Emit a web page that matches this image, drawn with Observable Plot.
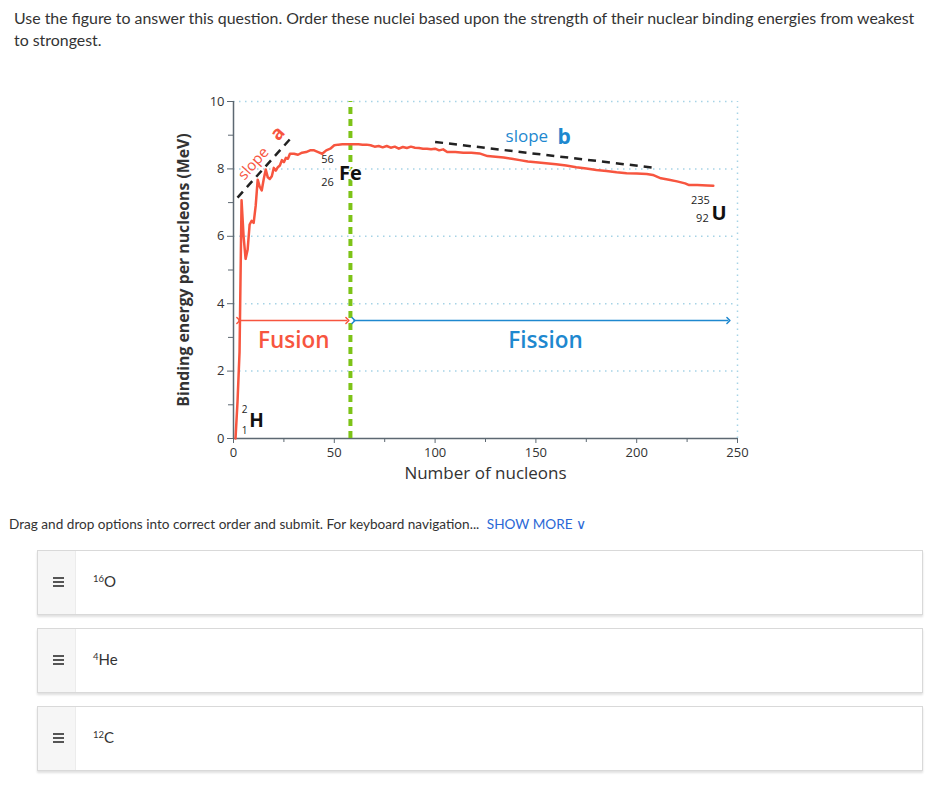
<!DOCTYPE html>
<html>
<head>
<meta charset="utf-8">
<script src="https://cdn.jsdelivr.net/npm/d3@7"></script>
<script src="https://cdn.jsdelivr.net/npm/@observablehq/plot@0.6"></script>
<style>
  html, body { margin: 0; padding: 0; background: #fff; }
  body { width: 939px; height: 787px; position: relative; overflow: hidden; font-family: "Lato", "Open Sans", sans-serif; color: #333; }
  .q { position: absolute; left: 14px; top: 7px; width: 905px; font-size: 15.9px; line-height: 22px; color: #333; }
  #chart { position: absolute; left: 0; top: 85px; }
  .drag { position: absolute; left: 9px; top: 516px; font-size: 13.6px; color: #333; white-space: nowrap; }
  .drag .more { color: #2a68d6; margin-left: 4px; }
  .opt { position: absolute; left: 37px; width: 884px; height: 63px; border: 1px solid #d9d9d9; box-shadow: 0 2px 2px rgba(0,0,0,0.12); background: #fff; }
  .opt .handle { position: absolute; left: 0; top: 0; width: 37px; height: 63px; background: #f6f6f6; border-right: 1px solid #ececec; }
  .opt .handle i { position: absolute; left: 15px; width: 11px; height: 2px; background: #555; }
  .opt .lab { position: absolute; left: 55px; top: 21px; font-size: 15px; color: #333; }
  .opt .lab sup { font-size: 9.5px; vertical-align: 5px; }
</style>
</head>
<body>
<div class="q">Use the figure to answer this question. Order these nuclei based upon the strength of their nuclear binding energies from weakest to strongest.</div>
<div id="chart"></div>
<div class="drag">Drag and drop options into correct order and submit. For keyboard navigation... <span class="more">SHOW MORE &#x2228;</span></div>
<div id="opts"></div>
<script>
// ---- data ----
const massNumbers = [1,2,3,4,5,6,7,8,9,10,11,12,13,14,15,16,17,18,19,20,21,22,23,24,25,26,27,28,30,32,34,36,38,40,42,44,46,48,50,52,54,56,58,60,62,64,66,68,70,72,74,76,78,80,82,84,86,88,90,92,94,96,98,100,102,104,106,110,114,118,122,126,130,134,138,142,146,150,155,160,165,170,175,180,185,190,195,200,205,208,212,216,220,224,226,230,235,238];
const bindingEnergies = [0,1.1,2.57,7.07,6.0,5.33,5.6,6.35,6.46,6.4,6.9,7.68,7.47,7.36,7.7,7.98,7.75,7.7,7.78,8.03,7.95,8.05,8.1,8.26,8.2,8.33,8.3,8.45,8.45,8.42,8.48,8.5,8.55,8.55,8.5,8.45,8.55,8.6,8.7,8.72,8.73,8.73,8.73,8.73,8.73,8.72,8.72,8.7,8.66,8.68,8.64,8.68,8.63,8.66,8.6,8.65,8.62,8.66,8.63,8.62,8.6,8.6,8.58,8.6,8.55,8.58,8.5,8.5,8.48,8.48,8.46,8.38,8.36,8.34,8.3,8.26,8.22,8.2,8.17,8.14,8.1,8.05,8.01,7.97,7.94,7.9,7.87,7.86,7.85,7.82,7.72,7.68,7.63,7.57,7.52,7.52,7.51,7.5];
const ironMassNumber = 58;
const slopeA = { x1: 2, y1: 7.15, x2: 29.8, y2: 9.0 };
const slopeB = { x1: 100, y1: 8.8, x2: 208, y2: 8.04 };
const fusionArrow = { x1: 2.4, x2: 56.5, y: 3.5 };
const fissionArrow = { x1: 59.5, x2: 245.5, y: 3.5 };
const yMajorTicks = [0, 2, 4, 6, 8, 10];
const yMinorTicks = [1, 3, 5, 7, 9];
const xMajorTicks = [0, 50, 100, 150, 200, 250];
const xMinorTicks = [25, 75, 125, 175, 225];
const gridY = [2, 4, 6, 8, 10];
const options = [["16", "O"], ["4", "He"], ["12", "C"]];

const curve = massNumbers.map((a, i) => ({ a, e: bindingEnergies[i] }));

const red = "#f7553f", blue = "#1e88cf", axisCol = "#5d6872", green = "#7dc317";
const grid = { stroke: "#a6d3e6", strokeWidth: 1.5, strokeDasharray: "1.5,4.5" };
const halo = { stroke: "white", strokeWidth: 3, paintOrder: "stroke" };

const chart = Plot.plot({
  width: 939, height: 420,
  marginLeft: 233, marginRight: 202, marginTop: 16, marginBottom: 67,
  x: { domain: [0, 250] },
  y: { domain: [0, 10] },
  style: { fontFamily: "'Open Sans', Lato, sans-serif", fontSize: "13px", color: "#333", background: "transparent", overflow: "visible" },
  marks: [
    Plot.ruleY(gridY, { x1: 0, x2: 250, ...grid }),
    Plot.ruleX([250], { y1: 0, y2: 10, ...grid }),
    Plot.axisY(yMajorTicks, { tickSize: 6, tickPadding: 3, stroke: axisCol, fill: "#333", fontSize: 13, label: null }),
    Plot.axisY(yMinorTicks, { tickSize: 5, stroke: axisCol, tickFormat: () => "", label: null }),
    Plot.axisX(xMajorTicks, { tickSize: 5, tickPadding: 4, stroke: axisCol, fill: "#333", fontSize: 13, label: null }),
    Plot.axisX(xMinorTicks, { tickSize: 4, stroke: axisCol, tickFormat: () => "", label: null }),
    Plot.ruleX([0], { y1: 0, y2: 10, stroke: axisCol, strokeWidth: 1.5 }),
    Plot.ruleY([0], { x1: 0, x2: 250, stroke: axisCol, strokeWidth: 1.5 }),
    Plot.ruleX([ironMassNumber], { y1: 0, y2: 10, stroke: green, strokeWidth: 4, strokeDasharray: "7,5" }),
    Plot.link([slopeA, slopeB], { x1: "x1", y1: "y1", x2: "x2", y2: "y2", stroke: "#222", strokeWidth: 2.5, strokeDasharray: "8,6" }),
    Plot.line(curve, { x: "a", y: "e", stroke: red, strokeWidth: 2.5, strokeLinejoin: "round" }),
    Plot.link([fusionArrow], { x1: "x1", x2: "x2", y1: "y", y2: "y", stroke: red, strokeWidth: 1.5, marker: "arrow" }),
    Plot.link([fissionArrow], { x1: "x1", x2: "x2", y1: "y", y2: "y", stroke: blue, strokeWidth: 1.5, marker: "arrow" }),
    Plot.text(["Fusion"], { x: 29.9, y: 2.91, fill: red, fontSize: 22.5, fontWeight: 600 }),
    Plot.text(["Fission"], { x: 154.8, y: 2.91, fill: blue, fontSize: 22.5, fontWeight: 600 }),
    // slope labels
    Plot.text(["slope"], { x: 9.9, y: 8.16, fill: red, fontSize: 15, rotate: -48 }),
    Plot.text(["a"], { x: 21.8, y: 9.05, fill: red, fontSize: 19, fontWeight: 700, rotate: -48 }),
    Plot.text(["slope"], { x: 145.5, y: 8.95, fill: blue, fontSize: 17 }),
    Plot.text(["b"], { x: 164, y: 8.95, fill: blue, fontSize: 21, fontWeight: 700 }),
    // nuclide labels
    Plot.text(["56"], { x: 46.6, y: 8.28, fill: "#222", fontSize: 11 }),
    Plot.text(["26"], { x: 46.6, y: 7.6, fill: "#222", fontSize: 11 }),
    Plot.text(["Fe"], { x: 58, y: 7.86, fill: "#111", fontSize: 20, fontWeight: 700, ...halo }),
    Plot.text(["235"], { x: 231.6, y: 7.06, fill: "#222", fontSize: 11 }),
    Plot.text(["92"], { x: 232.6, y: 6.53, fill: "#222", fontSize: 11 }),
    Plot.text(["U"], { x: 240.8, y: 6.68, fill: "#111", fontSize: 20, fontWeight: 700 }),
    Plot.text(["2"], { x: 5.5, y: 0.85, fill: "#222", fontSize: 10 }),
    Plot.text(["1"], { x: 5.5, y: 0.22, fill: "#222", fontSize: 10 }),
    Plot.text(["H"], { x: 11.4, y: 0.53, fill: "#111", fontSize: 19, fontWeight: 700 }),
    // axis titles
    Plot.text(["Binding energy per nucleons (MeV)"], { frameAnchor: "left", textAnchor: "middle", dx: -50, rotate: -90, fill: "#333", fontSize: 15.8, fontWeight: 700 }),
    Plot.text(["Number of nucleons"], { x: 125, frameAnchor: "bottom", dy: 40, fill: "#333", fontSize: 17, fontWeight: 500 })
  ]
});
document.getElementById("chart").appendChild(chart);

const tops = [550, 628, 706];
const optsEl = document.getElementById("opts");
options.forEach(([mass, sym], i) => {
  const d = document.createElement("div");
  d.className = "opt";
  d.style.top = tops[i] + "px";
  d.innerHTML = '<div class="handle"><i style="top:26px"></i><i style="top:30px"></i><i style="top:34px"></i></div>' +
    '<div class="lab"><sup>' + mass + '</sup>' + sym + '</div>';
  optsEl.appendChild(d);
});
</script>
</body>
</html>
